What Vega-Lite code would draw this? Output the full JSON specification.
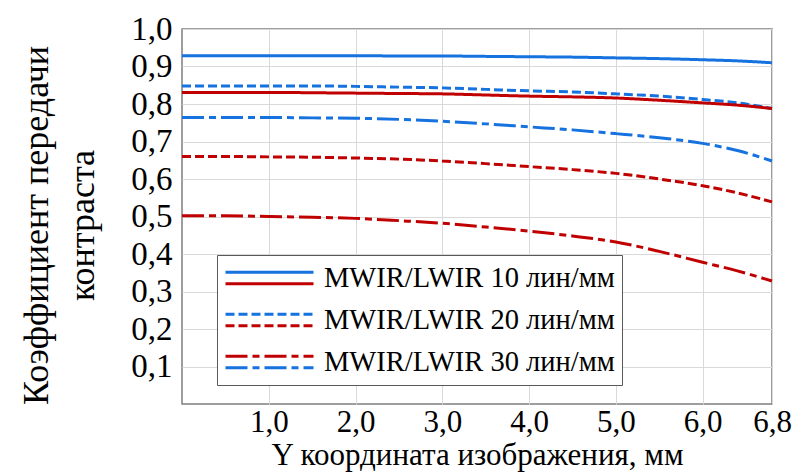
{
  "$schema": "https://vega.github.io/schema/vega-lite/v6.json",
  "width": 590,
  "height": 375,
  "autosize": {"type": "none"},
  "padding": {"left": 182, "top": 29, "right": 28, "bottom": 71},
  "background": "white",
  "config": {
    "view": {"stroke": "#7f7f7f", "strokeWidth": 1.5},
    "font": "Liberation Serif",
    "style": {
      "guide-label": {"font": "Liberation Serif", "fill": "black"},
      "guide-title": {"font": "Liberation Serif", "fill": "black", "fontWeight": "normal"}
    },
    "axis": {
      "labelFont": "Liberation Serif",
      "titleFont": "Liberation Serif",
      "labelColor": "black",
      "titleColor": "black",
      "titleFontWeight": "normal",
      "gridColor": "#d9d9d9",
      "gridWidth": 1,
      "ticks": false,
      "domain": false
    }
  },
  "data": {
    "values": [
      {"s":"M","f":"10","x":0,"v":0.929},{"s":"M","f":"10","x":0.5,"v":0.929},{"s":"M","f":"10","x":1,"v":0.929},{"s":"M","f":"10","x":1.5,"v":0.929},{"s":"M","f":"10","x":2,"v":0.929},{"s":"M","f":"10","x":2.5,"v":0.928},{"s":"M","f":"10","x":3,"v":0.928},{"s":"M","f":"10","x":3.5,"v":0.927},{"s":"M","f":"10","x":4,"v":0.926},{"s":"M","f":"10","x":4.5,"v":0.925},{"s":"M","f":"10","x":5,"v":0.923},{"s":"M","f":"10","x":5.5,"v":0.921},{"s":"M","f":"10","x":6,"v":0.918},{"s":"M","f":"10","x":6.4,"v":0.915},{"s":"M","f":"10","x":6.8,"v":0.910},
      {"s":"L","f":"10","x":0,"v":0.831},{"s":"L","f":"10","x":0.5,"v":0.831},{"s":"L","f":"10","x":1,"v":0.831},{"s":"L","f":"10","x":1.5,"v":0.830},{"s":"L","f":"10","x":2,"v":0.829},{"s":"L","f":"10","x":2.5,"v":0.828},{"s":"L","f":"10","x":3,"v":0.827},{"s":"L","f":"10","x":3.5,"v":0.824},{"s":"L","f":"10","x":4,"v":0.821},{"s":"L","f":"10","x":4.5,"v":0.819},{"s":"L","f":"10","x":5,"v":0.816},{"s":"L","f":"10","x":5.5,"v":0.810},{"s":"L","f":"10","x":6,"v":0.803},{"s":"L","f":"10","x":6.4,"v":0.797},{"s":"L","f":"10","x":6.8,"v":0.788},
      {"s":"M","f":"20","x":0,"v":0.848},{"s":"M","f":"20","x":0.5,"v":0.848},{"s":"M","f":"20","x":1,"v":0.848},{"s":"M","f":"20","x":1.5,"v":0.848},{"s":"M","f":"20","x":2,"v":0.847},{"s":"M","f":"20","x":2.5,"v":0.845},{"s":"M","f":"20","x":3,"v":0.843},{"s":"M","f":"20","x":3.5,"v":0.839},{"s":"M","f":"20","x":4,"v":0.835},{"s":"M","f":"20","x":4.5,"v":0.832},{"s":"M","f":"20","x":5,"v":0.827},{"s":"M","f":"20","x":5.5,"v":0.821},{"s":"M","f":"20","x":6,"v":0.812},{"s":"M","f":"20","x":6.4,"v":0.803},{"s":"M","f":"20","x":6.8,"v":0.788},
      {"s":"M","f":"30","x":0,"v":0.764},{"s":"M","f":"30","x":0.5,"v":0.764},{"s":"M","f":"30","x":1,"v":0.764},{"s":"M","f":"30","x":1.5,"v":0.763},{"s":"M","f":"30","x":2,"v":0.762},{"s":"M","f":"30","x":2.5,"v":0.759},{"s":"M","f":"30","x":3,"v":0.754},{"s":"M","f":"30","x":3.5,"v":0.747},{"s":"M","f":"30","x":4,"v":0.739},{"s":"M","f":"30","x":4.5,"v":0.731},{"s":"M","f":"30","x":5,"v":0.721},{"s":"M","f":"30","x":5.5,"v":0.710},{"s":"M","f":"30","x":6,"v":0.695},{"s":"M","f":"30","x":6.4,"v":0.676},{"s":"M","f":"30","x":6.8,"v":0.648},
      {"s":"L","f":"20","x":0,"v":0.660},{"s":"L","f":"20","x":0.5,"v":0.660},{"s":"L","f":"20","x":1,"v":0.659},{"s":"L","f":"20","x":1.5,"v":0.658},{"s":"L","f":"20","x":2,"v":0.656},{"s":"L","f":"20","x":2.5,"v":0.653},{"s":"L","f":"20","x":3,"v":0.648},{"s":"L","f":"20","x":3.5,"v":0.641},{"s":"L","f":"20","x":4,"v":0.633},{"s":"L","f":"20","x":4.5,"v":0.625},{"s":"L","f":"20","x":5,"v":0.615},{"s":"L","f":"20","x":5.5,"v":0.600},{"s":"L","f":"20","x":6,"v":0.582},{"s":"L","f":"20","x":6.4,"v":0.563},{"s":"L","f":"20","x":6.8,"v":0.539},
      {"s":"L","f":"30","x":0,"v":0.502},{"s":"L","f":"30","x":0.5,"v":0.502},{"s":"L","f":"30","x":1,"v":0.500},{"s":"L","f":"30","x":1.5,"v":0.498},{"s":"L","f":"30","x":2,"v":0.495},{"s":"L","f":"30","x":2.5,"v":0.489},{"s":"L","f":"30","x":3,"v":0.482},{"s":"L","f":"30","x":3.5,"v":0.472},{"s":"L","f":"30","x":4,"v":0.461},{"s":"L","f":"30","x":4.5,"v":0.448},{"s":"L","f":"30","x":5,"v":0.432},{"s":"L","f":"30","x":5.5,"v":0.407},{"s":"L","f":"30","x":6,"v":0.378},{"s":"L","f":"30","x":6.4,"v":0.355},{"s":"L","f":"30","x":6.8,"v":0.328}
    ]
  },
  "encoding": {
    "x": {
      "field": "x", "type": "quantitative",
      "scale": {"domain": [0, 6.8], "nice": false, "zero": false},
      "axis": {
        "values": [1, 2, 3, 4, 5, 6, 6.8],
        "labelExpr": "replace(format(datum.value, '.1f'), '.', ',')",
        "labelFont": "Liberation Serif",
        "labelFontSize": 31,
        "labelColor": "black",
        "labelPadding": 3,
        "labelDx": 4,
        "labelFlush": false,
        "title": "Y координата изображения, мм",
        "titleFont": "Liberation Serif",
        "titleFontSize": 31,
        "titleFontWeight": "normal",
        "titleColor": "black",
        "titlePadding": 3.5
      }
    },
    "y": {
      "field": "v", "type": "quantitative",
      "scale": {"domain": [0, 1], "nice": false},
      "axis": {
        "values": [0.1, 0.2, 0.3, 0.4, 0.5, 0.6, 0.7, 0.8, 0.9, 1.0],
        "labelExpr": "replace(format(datum.value, '.1f'), '.', ',')",
        "labelFont": "Liberation Serif",
        "labelFontSize": 33,
        "labelColor": "black",
        "labelPadding": 10,
        "labelFlush": false,
        "title": ["Коэффициент передачи", "контраста"],
        "titleFont": "Liberation Serif",
        "titleFontSize": 36,
        "titleFontWeight": "normal",
        "titleColor": "black",
        "titleLineHeight": 46,
        "titlePadding": 29,
        "titleY": 196
      }
    }
  },
  "layer": [
    {
      "transform": [{"filter": "datum.s === 'M'"}],
      "mark": {"type": "line", "color": "#1572de", "strokeWidth": 3, "interpolate": "monotone"},
      "encoding": {
        "strokeDash": {
          "field": "f", "type": "nominal",
          "scale": {"domain": ["10", "20", "30"], "range": [[1, 0], [9, 4], [22, 5, 7, 5]]},
          "legend": {
            "title": null,
            "orient": "none",
            "legendX": 35,
            "legendY": 226,
            "zindex": 1,
            "clipHeight": 32,
            "symbolType": "M-1,-0.13H1",
            "symbolSize": 7744,
            "symbolStrokeWidth": 3,
            "symbolStrokeColor": "#1572de",
            "labelExpr": "'MWIR/LWIR ' + datum.label + ' лин/мм'",
            "labelFont": "Liberation Serif",
            "labelFontSize": 28.5,
            "labelColor": "black",
            "labelOffset": 9,
            "labelLimit": 500,
            "padding": 7,
            "rowPadding": 10,
            "strokeColor": "#595959",
            "fillColor": "white",
            "encode": {
              "symbols": {"update": {"shape": {"signal": "datum.value === '30' ? 'M-1,0.13H1' : 'M-1,-0.13H1'"}, "stroke": {"value": "#1572de"}}}
            }
          }
        }
      }
    },
    {
      "transform": [{"filter": "datum.s === 'L'"}],
      "mark": {"type": "line", "color": "#c00000", "strokeWidth": 3, "interpolate": "monotone"},
      "encoding": {
        "strokeDash": {
          "field": "f", "type": "nominal",
          "scale": {"domain": ["10", "20", "30"], "range": [[1, 0], [9, 4], [22, 5, 7, 5]]},
          "legend": {
            "title": null,
            "orient": "none",
            "legendX": 35,
            "legendY": 226,
            "zindex": 2,
            "clipHeight": 32,
            "symbolType": "M-1,0.13H1",
            "symbolSize": 7744,
            "symbolStrokeWidth": 3,
            "symbolStrokeColor": "#c00000",
            "labelExpr": "'MWIR/LWIR ' + datum.label + ' лин/мм'",
            "labelFont": "Liberation Serif",
            "labelFontSize": 28.5,
            "labelColor": "black",
            "labelOpacity": 0,
            "labelOffset": 9,
            "labelLimit": 500,
            "padding": 7,
            "rowPadding": 10,
            "encode": {
              "symbols": {"update": {"shape": {"signal": "datum.value === '30' ? 'M-1,-0.13H1' : 'M-1,0.13H1'"}, "stroke": {"value": "#c00000"}}}
            }
          }
        }
      }
    }
  ],
  "resolve": {"scale": {"strokeDash": "independent"}, "legend": {"strokeDash": "independent"}}
}
